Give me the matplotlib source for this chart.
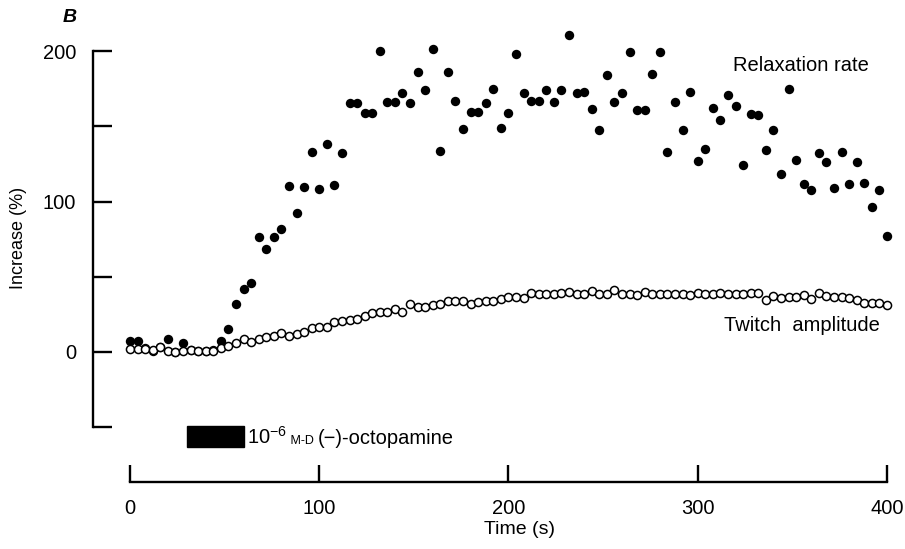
import matplotlib
matplotlib.use("Agg")
import matplotlib.pyplot as plt
from matplotlib.patches import Rectangle

plt.rcParams['font.family'] = ['Liberation Sans', 'DejaVu Sans']
plt.rcParams['mathtext.fontset'] = 'custom'
plt.rcParams['mathtext.rm'] = 'Liberation Sans'
plt.rcParams['mathtext.it'] = 'Liberation Sans:italic'

# ---- data ----
time_s = [0, 4, 8, 12, 16, 20, 24, 28, 32, 36, 40, 44, 48, 52, 56, 60, 64, 68, 72, 76,
          80, 84, 88, 92, 96, 100, 104, 108, 112, 116, 120, 124, 128, 132, 136, 140, 144, 148, 152, 156,
          160, 164, 168, 172, 176, 180, 184, 188, 192, 196, 200, 204, 208, 212, 216, 220, 224, 228, 232, 236,
          240, 244, 248, 252, 256, 260, 264, 268, 272, 276, 280, 284, 288, 292, 296, 300, 304, 308, 312, 316,
          320, 324, 328, 332, 336, 340, 344, 348, 352, 356, 360, 364, 368, 372, 376, 380, 384, 388, 392, 396,
          400]

relaxation_rate = [7, 7, 2.7, 0.7, 3.5, 8.6, 0, 6, 1.3, 0.7, 0.7, 1, 7.3, 15.3, 31.9, 41.9, 45.8, 76.6, 68.7, 76.2,
                   81.5, 110.5, 92.1, 109.6, 132.7, 108.1, 138.2, 110.8, 132, 165.7, 165.7, 158.6, 158.6, 200.2, 166.1, 166.1, 172.3, 165.7, 186.3, 174.3,
                   201.3, 133.4, 186.3, 166.6, 148, 159.5, 159.5, 165.2, 174.5, 148.6, 158.6, 198, 171.9, 166.6, 166.6, 174.3, 166.1, 174.3, 210.6, 172.3,
                   172.8, 161.3, 147.5, 184.3, 166.1, 171.9, 199.6, 160.6, 160.6, 184.9, 199.1, 132.7, 166.3, 147.3, 172.8, 127.1, 134.9, 161.9, 154.2, 171,
                   163.5, 124.3, 158.3, 157.5, 134, 147.7, 118.3, 174.8, 127.8, 111.8, 107.8, 132, 126, 109, 132.7, 111.4, 126.4, 112.3, 96.3, 107.4,
                   77.1]

twitch_amplitude = [1.8, 2, 2, 1.3, 3.1, 0.7, 0.2, 0.7, 1.3, 0.9, 0.9, 0.9, 2.9, 4.2, 5.8, 8.6, 6.9, 8.6, 9.8, 10.6,
                    12.4, 10.6, 12, 13.1, 15.7, 16.8, 16.8, 20.1, 20.8, 21.3, 22.1, 23.9, 25.7, 26.4, 26.4, 28.8, 26.8, 31.7, 30.1, 30.1,
                    31.2, 31.7, 34.1, 34.1, 34.1, 31.9, 33, 33.7, 33.7, 35.4, 36.5, 36.7, 36.1, 39, 38.5, 38.5, 38.5, 39, 39.6, 38.3,
                    38.3, 40.3, 38.3, 38.5, 41.2, 38.5, 38.3, 37.9, 40.1, 38.3, 38.5, 38.5, 38.5, 38.5, 37.9, 39, 38.5, 38.5, 39, 38.5,
                    38.3, 38.5, 39, 39, 34.6, 37.2, 35.7, 36.3, 36.3, 37.9, 35, 39, 37.2, 36.7, 36.3, 35.7, 34.6, 32.8, 32.3, 32.3,
                    31.2]

drug_start, drug_end = 30, 60          # application period (s)
y_major = [0, 100, 200]
y_minor = [-50, 50, 150]
x_ticks = [0, 100, 200, 300, 400]

# ---- figure ----
fig = plt.figure(figsize=(9.05, 5.49), dpi=100)
ax = fig.add_axes([93/905, 1-482/549, (900-93)/905, (482-30)/549])
ax.set_xlim(-19.55, 406.9)
ax.set_ylim(-86.4, 214)

ax.scatter(time_s, relaxation_rate, s=46, color='black', zorder=2, linewidths=0)
ax.scatter(time_s, twitch_amplitude, s=34, facecolor='white', edgecolor='black', linewidths=1.1, zorder=3)

for s in ['top', 'right']:
    ax.spines[s].set_visible(False)
ax.spines['left'].set_bounds(-50, 200)
ax.spines['bottom'].set_bounds(0, 400)
for s in ['left', 'bottom']:
    ax.spines[s].set_linewidth(1.7)

ax.set_yticks(y_major)
ax.set_yticks(y_minor, minor=True)
ax.set_xticks(x_ticks)
ax.tick_params(axis='y', which='both', direction='in', length=13.5, width=1.7, pad=12, labelsize=14.5)
ax.tick_params(axis='x', which='both', direction='in', length=12, width=1.7, pad=12, labelsize=14.5)

ax.set_ylabel('Increase (%)', fontsize=13)
ax.yaxis.set_label_coords(-0.0927, 0.54)
ax.yaxis.label.set_verticalalignment('center')
ax.set_xlabel('Time (s)', fontsize=14)
ax.xaxis.set_label_coords(0.529, -0.104)
ax.xaxis.label.set_verticalalignment('center')

ax.text(318.6, 190.7, 'Relaxation rate', fontsize=14.5, va='center', ha='left')
ax.text(313.9, 17.9, 'Twitch  amplitude', fontsize=14.5, va='center', ha='left')

# drug bar
ax.add_patch(Rectangle((drug_start, -63.1), drug_end - drug_start, 13.9, color='black', clip_on=False))
y0 = -61
t1 = ax.text(62, y0, r'10$^{-6}$', fontsize=14.5, va='baseline', ha='left')
t2 = ax.annotate(' M-D ', xy=(1, y0), xycoords=(t1, 'data'), fontsize=9, va='baseline', ha='left')
t3 = ax.annotate('(\u2212)-octopamine', xy=(1, y0), xycoords=(t2, 'data'), fontsize=14.5, va='baseline', ha='left')

fig.text(70/905, 1-18/549, 'B', fontsize=14, fontstyle='italic', fontweight='bold', ha='center', va='center')

fig.savefig('out.png', dpi=100)
